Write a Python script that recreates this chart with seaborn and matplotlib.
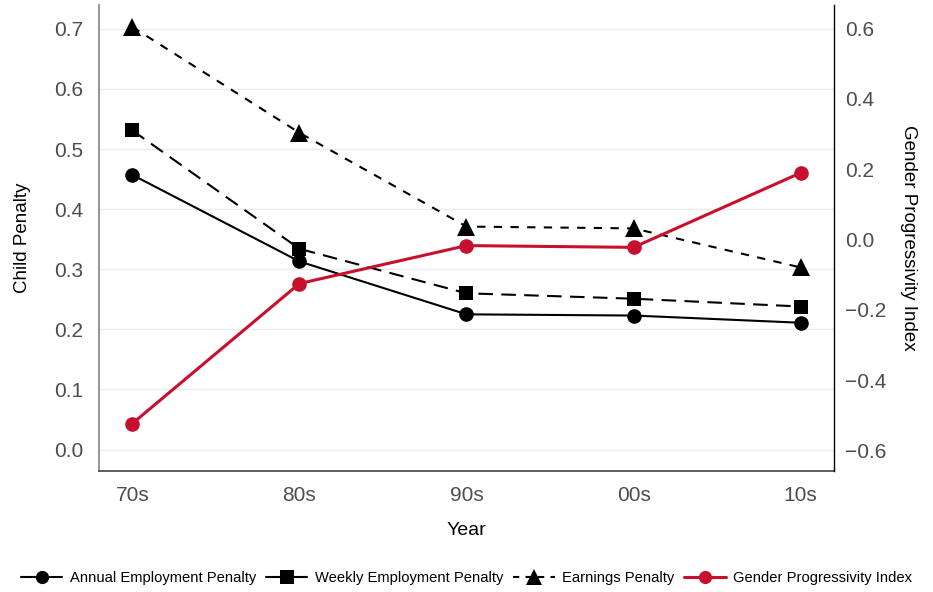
import numpy as np
import pandas as pd
import seaborn as sns
import matplotlib.pyplot as plt
from matplotlib.lines import Line2D

# 데이터
decades = ['70s', '80s', '90s', '00s', '10s']
annual_emp = [0.457, 0.313, 0.225, 0.223, 0.211]
weekly_emp = [0.531, 0.334, 0.260, 0.251, 0.238]
earnings = [0.703, 0.527, 0.371, 0.368, 0.303]
gender_prog = [-0.523, -0.125, -0.017, -0.022, 0.190]

left_ticks = [0.0, 0.1, 0.2, 0.3, 0.4, 0.5, 0.6, 0.7]
right_ticks = [-0.6, -0.4, -0.2, 0.0, 0.2, 0.4, 0.6]

red = '#C8102E'

sns.set_theme(style='white')
plt.rcParams['font.family'] = ['Liberation Sans', 'DejaVu Sans']

df = pd.DataFrame({'pos': np.arange(len(decades)), 'decade': decades,
                   'annual': annual_emp, 'weekly': weekly_emp,
                   'earnings': earnings, 'gender': gender_prog})

fig, ax = plt.subplots(figsize=(9.33, 5.92), dpi=100)
fig.subplots_adjust(left=0.106, right=0.894, top=0.992, bottom=0.205)

sns.lineplot(data=df, x='pos', y='annual', ax=ax, color='black', lw=1.5,
             marker='o', markersize=10.5, markeredgewidth=0)
sns.lineplot(data=df, x='pos', y='weekly', ax=ax, color='black', lw=1.5,
             marker='s', markersize=10.5, markeredgewidth=0, dashes=False)
ax.lines[-1].set_dashes([7, 4])
sns.lineplot(data=df, x='pos', y='earnings', ax=ax, color='black', lw=1.5,
             marker='^', markersize=12.5, markeredgewidth=0)
ax.lines[-1].set_dashes([4, 4])

ax.set_xlim(-0.2, 4.2)
ax.set_ylim(-0.035, 0.74)
ax.set_yticks(left_ticks)
ax.set_yticklabels([f'{t:.1f}' for t in left_ticks])
ax.set_xticks(df['pos'])
ax.set_xticklabels(decades)
ax.yaxis.grid(True, color='#EBEBEB', lw=1)
ax.set_axisbelow(True)
ax.tick_params(axis='both', labelsize=15, labelcolor='#4D4D4D', length=0, pad=11)
ax.set_xlabel('Year', fontsize=14, labelpad=12, color='black')
ax.set_ylabel('Child Penalty', fontsize=13.5, labelpad=17, color='black')
for s in ['top', 'right']:
    ax.spines[s].set_visible(False)
ax.spines['left'].set_color('#8C8C8C')
ax.spines['left'].set_linewidth(1.3)
ax.spines['bottom'].set_color('#333333')
ax.spines['bottom'].set_linewidth(1.1)

ax2 = ax.twinx()
sns.lineplot(data=df, x='pos', y='gender', ax=ax2, color=red, lw=2.2,
             marker='o', markersize=10.5, markeredgewidth=0)
ax2.set_ylim(-0.657, 0.668)
ax2.set_yticks(right_ticks)
ax2.set_yticklabels([f'{t:.1f}'.replace('-', '\u2212') for t in right_ticks])
ax2.tick_params(axis='y', labelsize=15, labelcolor='#4D4D4D', length=0, pad=8)
ax2.set_ylabel('Gender Progressivity Index', fontsize=13.5, rotation=270,
               labelpad=22, color='black')
for s in ['top', 'left', 'bottom']:
    ax2.spines[s].set_visible(False)
ax2.spines['right'].set_color('black')
ax2.spines['right'].set_linewidth(1.0)

handles = [
    Line2D([], [], color='black', lw=1.5, marker='o', markersize=9.5, markeredgewidth=0),
    Line2D([], [], color='black', lw=1.5, marker='s', markersize=9.5, markeredgewidth=0),
    Line2D([], [], color='black', lw=1.5, marker='^', markersize=11, markeredgewidth=0, dashes=[3, 3]),
    Line2D([], [], color=red, lw=2.2, marker='o', markersize=9.5, markeredgewidth=0),
]
labels = ['Annual Employment Penalty', 'Weekly Employment Penalty',
          'Earnings Penalty', 'Gender Progressivity Index']
fig.legend(handles, labels, loc='center', bbox_to_anchor=(0.5, 0.023), ncol=4,
           frameon=False, fontsize=10.6, handlelength=2.8, handletextpad=0.5,
           columnspacing=0.7, labelcolor='black')

fig.savefig('out.png', dpi=100)
